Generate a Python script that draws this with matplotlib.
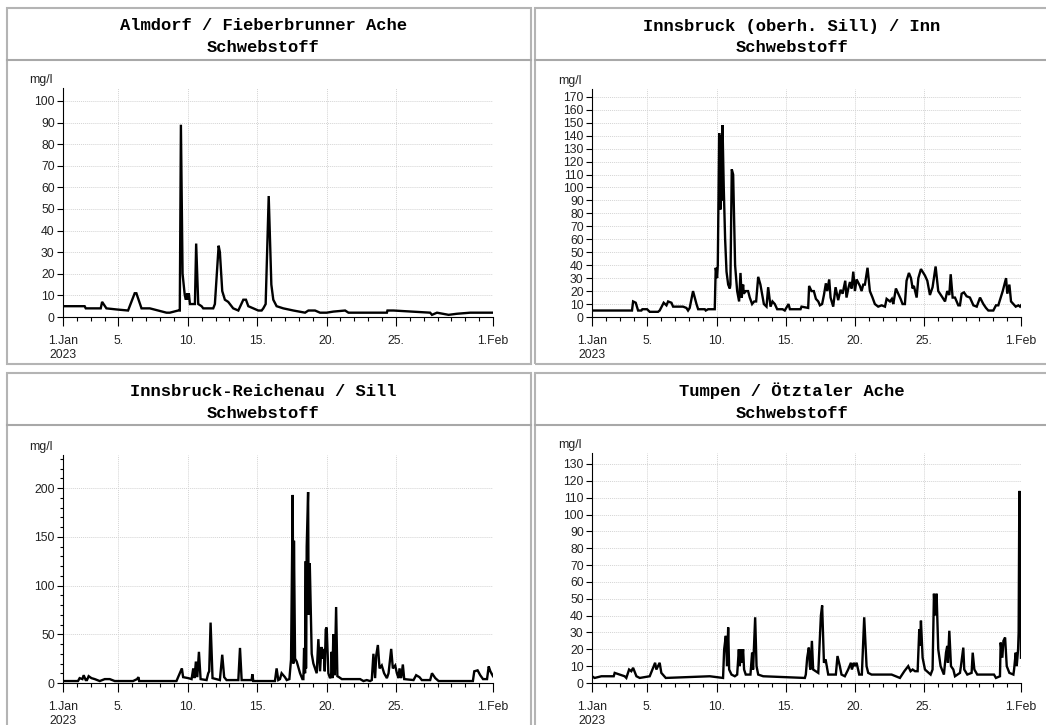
import matplotlib
matplotlib.use("Agg")
import matplotlib.pyplot as plt
from matplotlib.patches import Rectangle
from matplotlib.lines import Line2D
from matplotlib.ticker import MultipleLocator

# =========================
# Data (day offset from 1 Jan 2023, suspended sediment mg/l)
# =========================
almdorf_days = [0, 1.56, 1.64, 2.72, 2.82, 3.13, 3.85, 4.69, 5.17, 5.29, 5.66, 6.26, 7.46, 7.70,
                8.30, 8.42, 8.50, 8.62, 8.78, 8.86, 8.95, 9.03, 9.07, 9.15, 9.51, 9.60, 9.75, 9.99,
                10.11, 10.83, 10.95, 11.22, 11.31, 11.48, 11.67, 11.91, 12.27, 12.64, 13.0, 13.19,
                13.36, 13.72, 14.08, 14.32, 14.44, 14.61, 14.83, 15.02, 15.16, 15.40, 15.88, 16.61,
                17.45, 17.69, 18.17, 18.53, 19.01, 19.49, 20.34, 20.58, 23.35, 23.39, 23.83, 26.47,
                26.60, 26.96, 27.80, 28.40, 29.36, 31.0]
almdorf_mgl = [5, 5, 4, 4, 7, 4, 3.5, 3, 11, 11, 4, 4, 2, 2,
               3, 3, 89, 20, 10, 8, 11, 8, 11, 6, 6, 34, 6, 5,
               4, 4, 6, 33, 30, 12, 8, 7, 4, 3, 8, 8,
               5, 4, 3, 3, 4, 6, 56, 15, 8, 5, 4, 3,
               2, 3, 3, 2, 2, 2.5, 3, 2, 2, 3, 3, 2,
               1, 2, 1, 1.5, 2, 2]

inn_days = [0, 2.89, 2.97, 3.16, 3.33, 3.57, 3.64, 3.98, 4.17, 4.77, 4.89, 5.18, 5.38, 5.50, 5.74,
            5.86, 6.58, 6.82, 6.94, 7.06, 7.30, 7.55, 7.67, 8.15, 8.22, 8.39, 8.87, 8.94, 9.04,
            9.09, 9.19, 9.28, 9.33, 9.38, 9.43, 9.52, 9.62, 9.72, 9.84, 9.96, 10.0, 10.10, 10.20,
            10.34, 10.49, 10.63, 10.73, 10.82, 10.92, 10.97, 11.11, 11.28, 11.40, 11.57, 11.72,
            11.86, 12.01, 12.17, 12.42, 12.61, 12.73, 12.90, 13.04, 13.21, 13.38, 13.77, 13.93,
            14.20, 14.30, 15.07, 15.14, 15.62, 15.69, 15.86, 16.03, 16.18, 16.35, 16.47, 16.63,
            16.76, 16.90, 17.0, 17.14, 17.24, 17.43, 17.60, 17.79, 17.96, 18.11, 18.30, 18.39,
            18.52, 18.64, 18.76, 18.88, 19.0, 19.12, 19.36, 19.48, 19.60, 19.72, 19.91, 20.08,
            20.27, 20.44, 20.68, 20.93, 21.17, 21.29, 21.53, 21.67, 21.77, 21.96, 22.13, 22.30,
            22.44, 22.61, 22.73, 22.90, 23.05, 23.17, 23.26, 23.46, 23.58, 23.77, 24.06, 24.23,
            24.42, 24.61, 24.83, 25.02, 25.27, 25.51, 25.67, 25.82, 25.92, 26.06, 26.23, 26.47,
            26.59, 26.71, 26.88, 27.07, 27.31, 27.56, 27.80, 28.04, 28.28, 28.47, 28.64, 29.0,
            29.19, 29.36, 29.68, 29.92, 30.01, 30.16, 30.28, 30.45, 30.62, 30.81, 30.93, 31.0]
inn_mgl = [5, 5, 12, 11, 5, 5, 6, 6, 4, 4, 5, 11, 9, 12, 11,
           8, 8, 7, 5, 7, 20, 10, 6, 6, 5, 6, 6, 38, 30,
           40, 142, 83, 140, 90, 148, 100, 60, 35, 25, 22, 25, 114, 110,
           40, 20, 12, 34, 15, 25, 18, 20, 20, 15, 10, 12,
           12, 31, 25, 10, 8, 23, 8, 12, 10, 6, 6, 5,
           10, 6, 6, 8, 7, 24, 20, 20, 14, 12, 9, 10,
           17, 26, 20, 29, 15, 8, 23, 13, 21, 18, 28, 15,
           22, 27, 22, 35, 20, 29, 24, 20, 25, 25, 38, 20,
           15, 10, 8, 9, 8, 14, 12, 14, 10, 22, 18, 14,
           10, 10, 28, 34, 30, 22, 24, 15, 30, 37, 32, 28,
           17, 23, 39, 20, 16, 12, 20, 17, 33, 15, 15, 9,
           9, 18, 19, 16, 15, 9, 8, 15, 10, 7, 5, 5,
           9, 9, 20, 30, 18, 25, 12, 10, 8, 9, 8, 9]

sill_days = [0, 1.08, 1.20, 1.40, 1.49, 1.64, 1.73, 1.85, 2.05, 2.29, 2.65, 3.01, 3.37, 3.73, 5.05,
             5.34, 5.44, 5.49, 8.18, 8.42, 8.57, 8.66, 9.03, 9.27, 9.39, 9.48, 9.58, 9.68, 9.80,
             9.92, 10.35, 10.47, 10.54, 10.64, 10.78, 11.31, 11.48, 11.62, 11.79, 12.64, 12.76,
             12.88, 13.60, 13.65, 13.72, 15.28, 15.40, 15.52, 15.64, 15.76, 16.0, 16.13, 16.32,
             16.44, 16.56, 16.61, 16.65, 16.73, 16.85, 17.09, 17.26, 17.33, 17.38, 17.45, 17.50,
             17.52, 17.57, 17.67, 17.71, 17.79, 17.93, 18.05, 18.29, 18.41, 18.53, 18.63, 18.72,
             18.80, 18.87, 18.94, 19.01, 19.13, 19.25, 19.33, 19.37, 19.42, 19.49, 19.59, 19.69,
             19.78, 19.90, 20.10, 21.42, 21.66, 21.90, 22.14, 22.26, 22.38, 22.50, 22.58, 22.70,
             22.82, 22.98, 23.15, 23.35, 23.47, 23.66, 23.78, 23.95, 24.07, 24.19, 24.26, 24.38,
             24.50, 24.60, 25.27, 25.46, 25.70, 25.87, 26.47, 26.60, 26.84, 27.08, 29.55, 29.65,
             29.89, 30.08, 30.28, 30.57, 30.69, 30.81, 31.0]
sill_mgl = [2, 2, 5, 4, 8, 3, 3, 7, 5, 4, 2, 4, 4, 2, 2,
            4, 6, 2, 2, 10, 15, 6, 5, 4, 15, 5, 22, 6, 32,
            4, 3, 10, 12, 62, 5, 3, 29, 6, 3, 3, 36,
            3, 3, 9, 2, 2, 15, 3, 4, 10, 6, 3, 4,
            24, 193, 20, 146, 25, 22, 10, 4, 4, 36, 10, 125,
            15, 140, 196, 70, 123, 30, 20, 10, 45, 12, 37, 25,
            35, 12, 55, 57, 10, 5, 7, 32, 5, 50, 8, 78,
            7, 6, 4, 4, 2, 3, 2, 3, 30, 5, 28, 39,
            15, 18, 10, 5, 10, 35, 15, 18, 10, 5, 15, 5,
            19, 4, 3, 8, 6, 3, 3, 10, 5, 2, 2, 12,
            13, 8, 4, 4, 17, 12, 7]

tumpen_days = [0, 0.19, 0.68, 1.57, 1.64, 2.36, 2.48, 2.68, 2.84, 2.97, 3.21, 3.45, 4.17, 4.56,
               4.65, 4.89, 5.01, 5.33, 8.51, 9.47, 9.55, 9.67, 9.76, 9.84, 9.91, 10.08, 10.32,
               10.49, 10.61, 10.68, 10.75, 10.82, 10.92, 10.99, 11.11, 11.45, 11.57, 11.64, 11.79,
               11.89, 12.01, 12.37, 15.38, 15.45, 15.55, 15.67, 15.74, 15.79, 15.89, 15.98, 16.35,
               16.54, 16.63, 16.76, 16.88, 17.07, 17.62, 17.74, 17.91, 18.03, 18.27, 18.51, 18.71,
               18.78, 18.92, 19.0, 19.12, 19.31, 19.50, 19.67, 19.84, 19.96, 20.20, 21.65, 22.25,
               22.57, 22.85, 23.02, 23.17, 23.34, 23.53, 23.65, 23.70, 23.77, 23.89, 24.06, 24.47,
               24.61, 24.71, 24.78, 24.90, 25.02, 25.19, 25.43, 25.58, 25.67, 25.72, 25.82, 25.94,
               26.11, 26.23, 26.59, 26.66, 26.83, 26.90, 27.12, 27.43, 27.51, 27.63, 27.84, 29.05,
               29.19, 29.48, 29.53, 29.65, 29.73, 29.85, 29.97, 30.16, 30.45, 30.50, 30.62, 30.69,
               30.79, 30.83, 30.88, 30.93, 31.0]
tumpen_mgl = [4, 3, 4, 4, 6, 4, 3, 8, 7, 9, 4, 3, 4, 12,
              8, 12, 6, 3, 4, 3, 20, 28, 10, 33, 8, 5, 4,
              5, 20, 10, 20, 12, 20, 8, 5, 5, 18, 8, 39,
              10, 5, 4, 3, 5, 15, 21, 10, 8, 25, 8, 6,
              40, 46, 12, 14, 5, 5, 16, 10, 5, 4, 8, 12,
              8, 12, 10, 12, 5, 5, 39, 10, 6, 5, 5, 3,
              7, 10, 7, 8, 7, 7, 32, 22, 37, 15, 8, 5,
              8, 53, 40, 53, 20, 10, 5, 18, 22, 12, 31, 10,
              8, 4, 6, 10, 21, 8, 5, 6, 18, 8, 5, 5,
              3, 4, 24, 15, 25, 27, 10, 6, 5, 8, 18, 10,
              20, 30, 114, 105, 15]

tick_days = [0, 4, 9, 14, 19, 24, 31]
tick_labels = ["1.Jan\n2023", "5.", "10.", "15.", "20.", "25.", "1.Feb"]

W, H = 1046, 725
LABEL_SIZE = 8.8

fig = plt.figure(figsize=(W / 100, H / 100), dpi=100)


def fx(px):
    return px / W


def fy(py):
    return 1 - py / H


def panel(bx0, bx1, by0, by1, sep, tcx, title, ax_box, days, vals, ymax, ystep, yminor=None):
    # frame and header line
    fig.patches.append(Rectangle((fx(bx0), fy(by1)), fx(bx1) - fx(bx0), fy(by0) - fy(by1),
                                 transform=fig.transFigure, fill=False,
                                 edgecolor="#b4b4b4", lw=1.5))
    fig.lines.append(Line2D([fx(bx0), fx(bx1)], [fy(sep), fy(sep)],
                            transform=fig.transFigure, color="#a8a8a8", lw=1.5))
    fig.text(fx(tcx), fy(by0 + 18), title[0], ha="center", va="center",
             family="Liberation Mono", weight="bold", fontsize=12.3)
    fig.text(fx(tcx), fy(by0 + 40), title[1], ha="center", va="center",
             family="Liberation Mono", weight="bold", fontsize=12.3)

    x0, x1, y0, y1 = ax_box
    ax = fig.add_axes([fx(x0), fy(y1), fx(x1) - fx(x0), fy(y0) - fy(y1)])
    ax.plot(days, vals, color="black", lw=1.7, solid_joinstyle="miter")
    ax.set_xlim(0, 31)
    ax.set_ylim(0, ymax)

    ax.set_xticks(tick_days)
    ax.set_xticklabels(tick_labels)
    ax.set_xticks(range(0, 32), minor=True)
    ax.yaxis.set_major_locator(MultipleLocator(ystep))
    if yminor:
        ax.yaxis.set_minor_locator(MultipleLocator(yminor))

    for s in ["top", "right"]:
        ax.spines[s].set_visible(False)
    for s in ["left", "bottom"]:
        ax.spines[s].set_linewidth(0.8)

    ax.tick_params(axis="x", which="major", length=6.5, width=0.8, pad=6.5, labelsize=LABEL_SIZE)
    ax.tick_params(axis="x", which="minor", length=3, width=0.8)
    ax.tick_params(axis="y", which="major", length=4.5, width=0.8, pad=1.5, labelsize=LABEL_SIZE)
    ax.tick_params(axis="y", which="minor", length=2.2, width=0.8)
    for lab in ax.get_xticklabels() + ax.get_yticklabels():
        lab.set_family("Liberation Sans")
        lab.set_color("#222222")

    ax.grid(True, which="major", color="#d4d4d4", lw=0.7, ls=(0, (1, 1)))
    ax.set_axisbelow(True)

    fig.text(fx(x0 - 10), fy(y0 - 8), "mg/l", ha="right", va="center",
             family="Liberation Sans", fontsize=LABEL_SIZE, color="#222222")
    return ax


panel(7, 531, 8, 364, 60, 263, ["Almdorf / Fieberbrunner Ache", "Schwebstoff"],
      (63, 493, 88, 317), almdorf_days, almdorf_mgl, 106, 10)
panel(535, 1052, 8, 364, 60, 792, ["Innsbruck (oberh. Sill) / Inn", "Schwebstoff"],
      (592, 1021, 89, 317), inn_days, inn_mgl, 176, 10)
panel(7, 531, 373, 740, 425, 263, ["Innsbruck-Reichenau / Sill", "Schwebstoff"],
      (63, 493, 455, 683), sill_days, sill_mgl, 234, 50, 10)
panel(535, 1052, 373, 740, 425, 792, ["Tumpen / Ötztaler Ache", "Schwebstoff"],
      (592, 1021, 453, 683), tumpen_days, tumpen_mgl, 136.5, 10)

plt.savefig("out.png", dpi=100)
